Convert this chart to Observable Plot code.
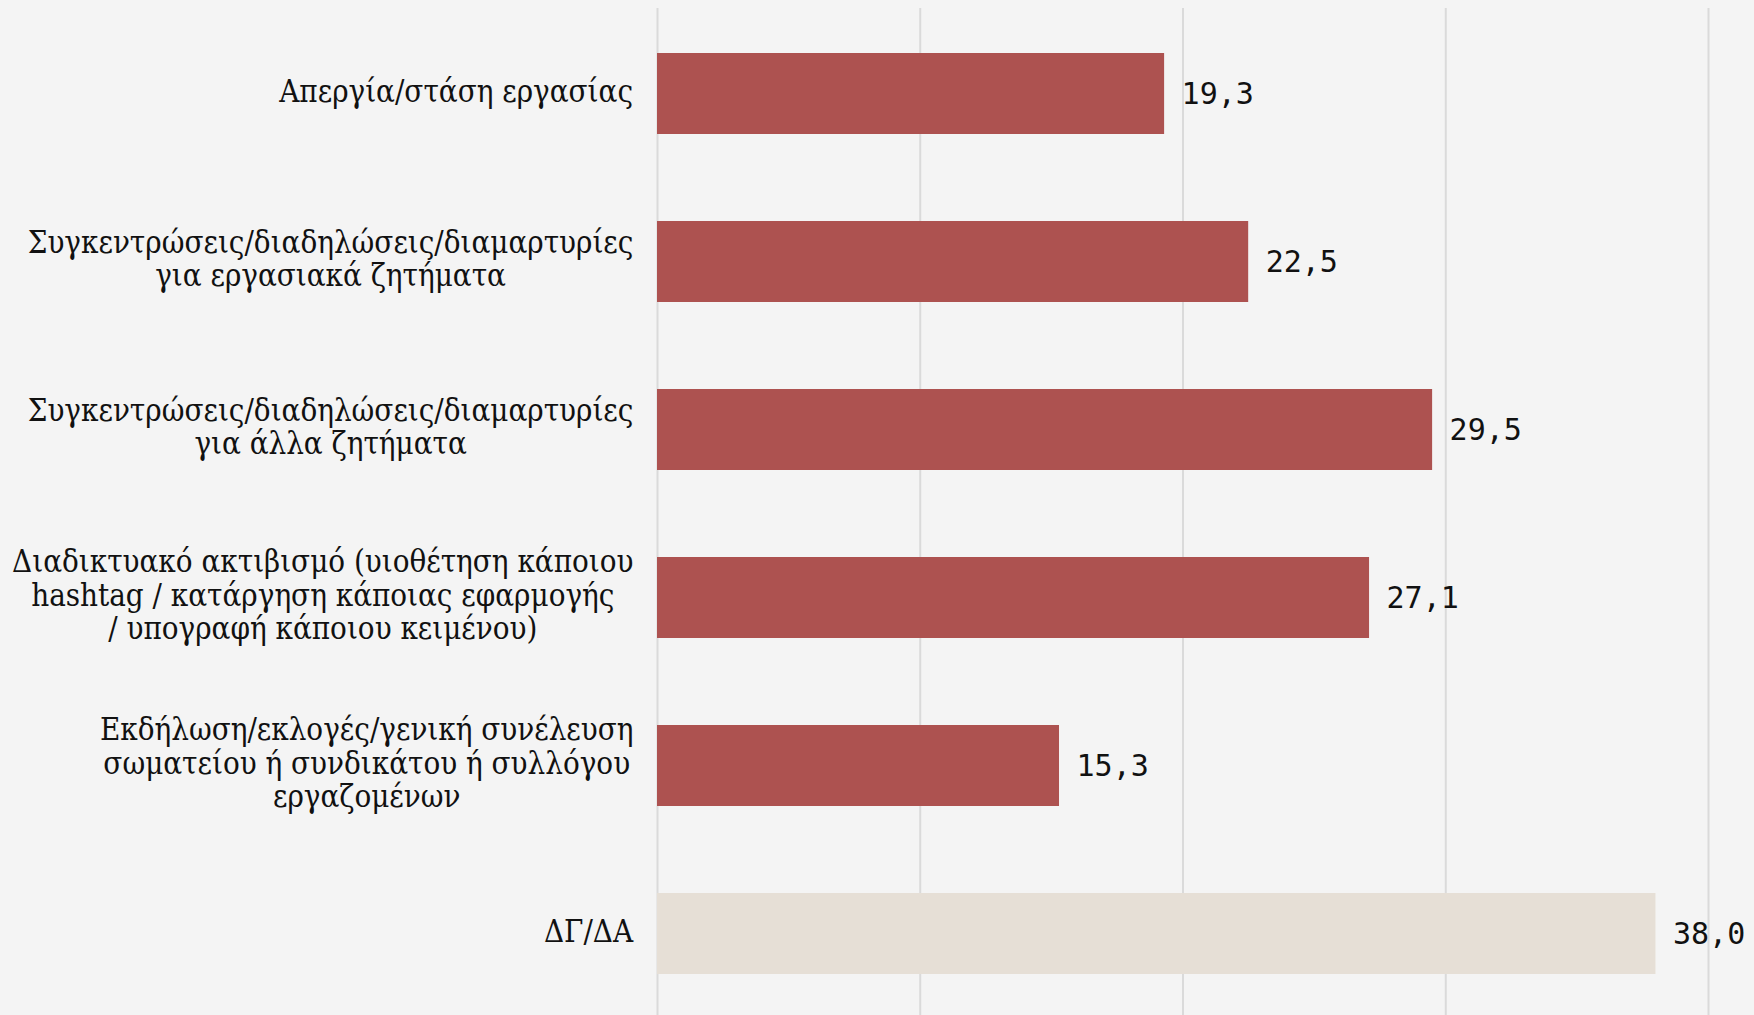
<!DOCTYPE html>
<html><head><meta charset="utf-8">
<script src="https://cdn.jsdelivr.net/npm/d3@7"></script>
<script src="https://cdn.jsdelivr.net/npm/@observablehq/plot@0.6"></script>
<style>
html,body{margin:0;padding:0;background:#f4f4f4;overflow:hidden;}
</style></head><body><div id="chart"></div>
<script>
const categories = [
  "Απεργία/στάση εργασίας",
  "Συγκεντρώσεις/διαδηλώσεις/διαμαρτυρίες\nγια εργασιακά ζητήματα",
  "Συγκεντρώσεις/διαδηλώσεις/διαμαρτυρίες\nγια άλλα ζητήματα",
  "Διαδικτυακό ακτιβισμό (υιοθέτηση κάποιου\nhashtag / κατάργηση κάποιας εφαρμογής\n/ υπογραφή κάποιου κειμένου)",
  "Εκδήλωση/εκλογές/γενική συνέλευση\nσωματείου ή συνδικάτου ή συλλόγου\nεργαζομένων",
  "ΔΓ/ΔΑ"
];
const values = [19.3, 22.5, 29.5, 27.1, 15.3, 38.0];
const kinds = ["answer", "answer", "answer", "answer", "answer", "dkna"];
const xTicks = [0, 10, 20, 30, 40];

const data = categories.map((c, i) => ({category: c, value: values[i], kind: kinds[i]}));

const chart = Plot.plot({
  width: 1754, height: 1015,
  marginLeft: 657, marginRight: 46, marginTop: 8, marginBottom: 0,
  style: {background: "#f4f4f4", color: "#111"},
  x: {domain: [0, 40], axis: null},
  y: {domain: categories, range: [8, 1019], paddingInner: 0.52, paddingOuter: 0.265, label: null},
  color: {domain: ["answer", "dkna"], range: ["#ad5250", "#e6dfd6"]},
  marks: [
    Plot.ruleX(xTicks, {stroke: "#dadada", strokeWidth: 2}),
    Plot.barX(data, {y: "category", x: "value", fill: "kind"}),
    Plot.text(data, {
      y: "category", x: "value",
      text: d => d.value.toFixed(1).replace(".", ","),
      textAnchor: "start", dx: 17,
      fontFamily: "DejaVu Sans Mono", fontSize: 30, fill: "#111"
    }),
    Plot.axisY({
      tickSize: 0, tickPadding: 24, label: null, dy: -3,
      fontFamily: "'DejaVu Serif Condensed', 'DejaVu Serif', serif", fontSize: 31, lineHeight: 1.08, fill: "#111"
    })
  ]
});
document.getElementById("chart").appendChild(chart);

// center multi-line labels within their block, keeping block right-aligned
chart.querySelectorAll("g[aria-label='y-axis tick label'] text").forEach(t => {
  const w = t.getBBox().width;
  t.setAttribute("text-anchor", "middle");
  t.querySelectorAll("tspan").forEach(s => s.setAttribute("text-anchor", "middle"));
  t.setAttribute("transform", (t.getAttribute("transform") || "") + ` translate(${-w / 2},0)`);
});
</script>
</body></html>
